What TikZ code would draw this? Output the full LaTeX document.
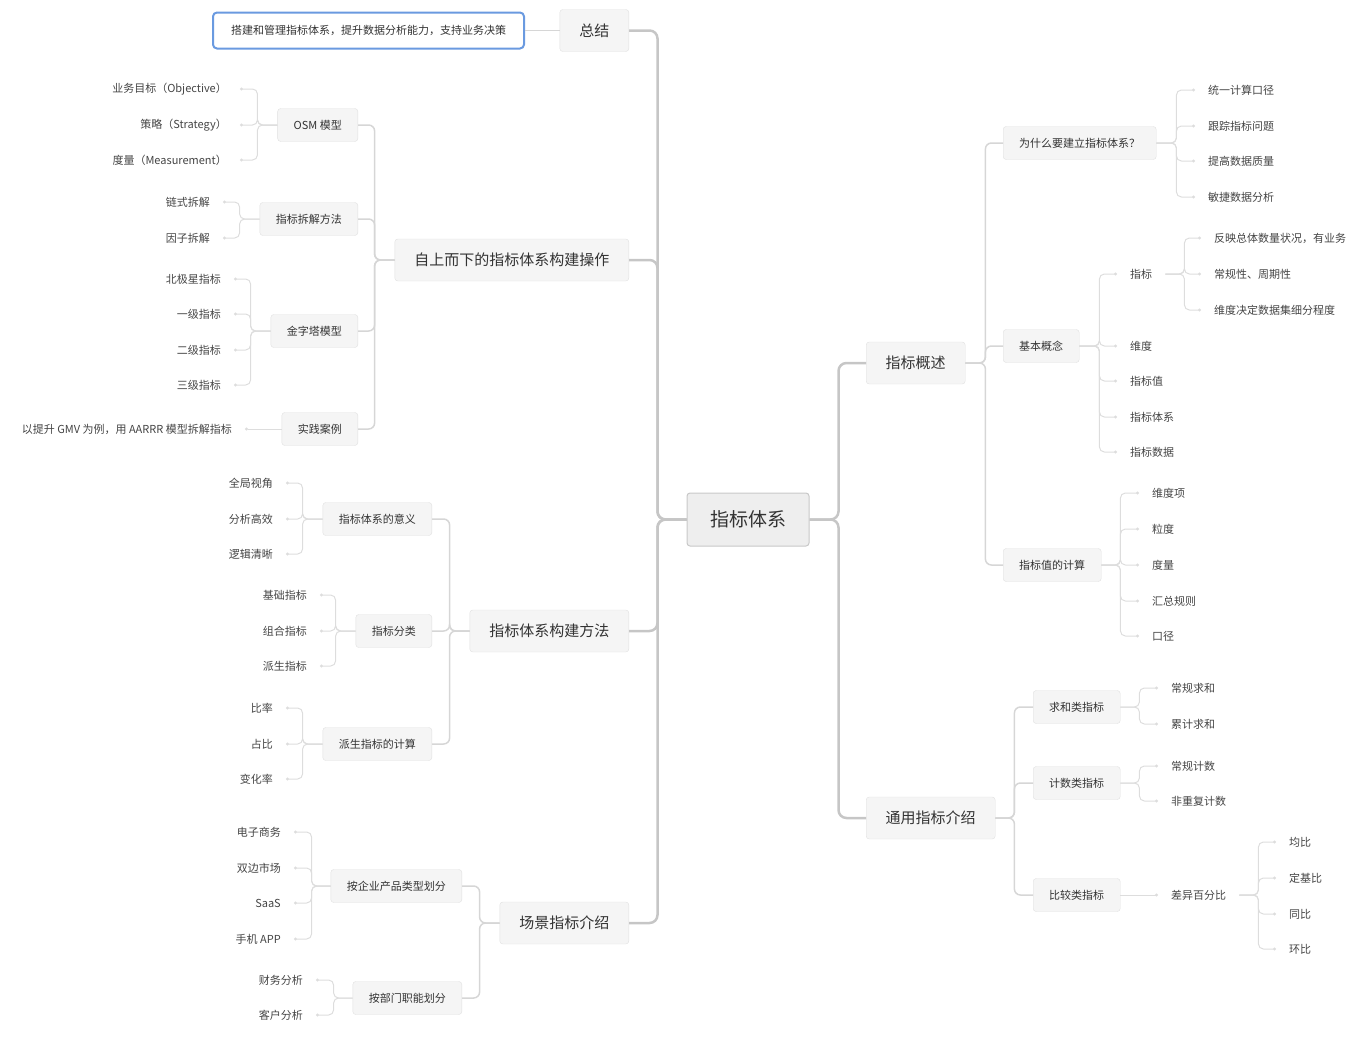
\documentclass[tikz,border=0pt]{standalone}
\usepackage{fontspec}
\setmainfont{Noto Sans CJK SC}
\usetikzlibrary{arrows.meta}
\definecolor{txt}{HTML}{333333}
\definecolor{leaftxt}{HTML}{444444}
\definecolor{boxfill}{HTML}{F5F5F5}
\definecolor{boxline}{HTML}{E0E0E0}
\definecolor{rootfill}{HTML}{EEEEEE}
\definecolor{rootline}{HTML}{C8C8C8}
\definecolor{trunk}{HTML}{C6C6C6}
\definecolor{branch}{HTML}{D6D6D6}
\definecolor{twig}{HTML}{DDDDDD}
\definecolor{hilite}{HTML}{6A9AE0}

\begin{document}
\begin{tikzpicture}[x=1pt,y=-1pt,
    lto/.style={to path={-- ++(-#1,0) |- (\tikztotarget)}},
    rto/.style={to path={-- ++(#1,0) |- (\tikztotarget)}}]
      \useasboundingbox (0,0) rectangle (1351,1036);
      \node[draw=rootline, fill=rootfill, line width=1pt, rounded corners=3pt, minimum height=53pt,
            inner xsep=23pt, font=\fontsize{19}{22}\selectfont, text=txt] (root) at (748,519.5) {指标体系};
      \node[draw=hilite, fill=white, line width=2pt, rounded corners=4pt, minimum height=36pt,
            inner xsep=18pt, font=\fontsize{11}{13}\selectfont, text=txt, anchor=east] (sum) at (525,30.5)
            {搭建和管理指标体系，提升数据分析能力，支持业务决策};
      % main branches
      \begin{scope}[every node/.style={draw=boxline,fill=boxfill,rounded corners=3pt,minimum height=42pt,
          inner xsep=19.5pt,font=\fontsize{15}{18}\selectfont,text=txt}]
        \node[anchor=east] (zj) at (629,30.5) {总结};
        \node[anchor=east] (zs) at (629,260) {自上而下的指标体系构建操作};
        \node[anchor=east] (ff) at (629,631) {指标体系构建方法};
        \node[anchor=east] (cj) at (629,923) {场景指标介绍};
        \node[anchor=west] (gs) at (866,363) {指标概述};
        \node[anchor=west] (ty) at (866,818) {通用指标介绍};
      \end{scope}
      % sub branches
      \begin{scope}[every node/.style={draw=boxline,fill=boxfill,rounded corners=3pt,minimum height=33pt,
          inner xsep=16pt,font=\fontsize{11}{13}\selectfont,text=txt}]
        \node[anchor=east] (osm) at (358,125) {OSM 模型};
        \node[anchor=east] (cf) at (358,219) {指标拆解方法};
        \node[anchor=east] (jzt) at (358,331) {金字塔模型};
        \node[anchor=east] (sl) at (358,429) {实践案例};
        \node[anchor=east] (yy) at (432,519) {指标体系的意义};
        \node[anchor=east] (fl) at (432,631) {指标分类};
        \node[anchor=east] (ps) at (432,744) {派生指标的计算};
        \node[anchor=east] (cp) at (462,886) {按企业产品类型划分};
        \node[anchor=east] (bm) at (462,998) {按部门职能划分};
        \node[anchor=west] (wsm) at (1003,143) {为什么要建立指标体系？};
        \node[anchor=west] (jb) at (1003,346) {基本概念};
        \node[anchor=west] (zjs) at (1003,565) {指标值的计算};
        \node[anchor=west] (qh) at (1033,707) {求和类指标};
        \node[anchor=west] (js) at (1033,783) {计数类指标};
        \node[anchor=west] (bj) at (1033,895) {比较类指标};
      \end{scope}
      % leaves
      \begin{scope}[every node/.style={inner xsep=13pt,inner ysep=2pt,font=\fontsize{11}{13}\selectfont,text=leaftxt}]
        \node[anchor=east] (osm1) at (240,89) {业务目标（Objective）};
        \node[anchor=east] (osm2) at (240,125) {策略（Strategy）};
        \node[anchor=east] (osm3) at (240,160) {度量（Measurement）};
        \node[anchor=east] (cf1) at (223,202) {链式拆解};
        \node[anchor=east] (cf2) at (223,238) {因子拆解};
        \node[anchor=east] (jzt1) at (234,279) {北极星指标};
        \node[anchor=east] (jzt2) at (234,314) {一级指标};
        \node[anchor=east] (jzt3) at (234,350) {二级指标};
        \node[anchor=east] (jzt4) at (234,385) {三级指标};
        \node[anchor=east] (sl1) at (245,429) {以提升 GMV 为例，用 AARRR 模型拆解指标};
        \node[anchor=east] (yy1) at (286,483) {全局视角};
        \node[anchor=east] (yy2) at (286,519) {分析高效};
        \node[anchor=east] (yy3) at (286,554) {逻辑清晰};
        \node[anchor=east] (fl1) at (320,595) {基础指标};
        \node[anchor=east] (fl2) at (320,631) {组合指标};
        \node[anchor=east] (fl3) at (320,666) {派生指标};
        \node[anchor=east] (ps1) at (286,708) {比率};
        \node[anchor=east] (ps2) at (286,744) {占比};
        \node[anchor=east] (ps3) at (286,779) {变化率};
        \node[anchor=east] (cp1) at (294,832) {电子商务};
        \node[anchor=east] (cp2) at (294,868) {双边市场};
        \node[anchor=east] (cp3) at (294,903) {SaaS};
        \node[anchor=east] (cp4) at (294,939) {手机 APP};
        \node[anchor=east] (bm1) at (316,980) {财务分析};
        \node[anchor=east] (bm2) at (316,1015) {客户分析};
        \node[anchor=west] (wsm1) at (1195,90) {统一计算口径};
        \node[anchor=west] (wsm2) at (1195,126) {跟踪指标问题};
        \node[anchor=west] (wsm3) at (1195,161) {提高数据质量};
        \node[anchor=west] (wsm4) at (1195,197) {敏捷数据分析};
        \node[anchor=west] (jb1) at (1117,274) {指标};
        \node[anchor=west] (jb2) at (1117,346) {维度};
        \node[anchor=west] (jb3) at (1117,381) {指标值};
        \node[anchor=west] (jb4) at (1117,417) {指标体系};
        \node[anchor=west] (jb5) at (1117,452) {指标数据};
        \node[anchor=west] (zb1) at (1201,238) {反映总体数量状况，有业务};
        \node[anchor=west] (zb2) at (1201,274) {常规性、周期性};
        \node[anchor=west] (zb3) at (1201,310) {维度决定数据集细分程度};
        \node[anchor=west] (zjs1) at (1139,493) {维度项};
        \node[anchor=west] (zjs2) at (1139,529) {粒度};
        \node[anchor=west] (zjs3) at (1139,565) {度量};
        \node[anchor=west] (zjs4) at (1139,601) {汇总规则};
        \node[anchor=west] (zjs5) at (1139,636) {口径};
        \node[anchor=west] (qh1) at (1158,688) {常规求和};
        \node[anchor=west] (qh2) at (1158,724) {累计求和};
        \node[anchor=west] (js1) at (1158,766) {常规计数};
        \node[anchor=west] (js2) at (1158,801) {非重复计数};
        \node[anchor=west] (bj1) at (1158,895) {差异百分比};
        \node[anchor=west] (cy1) at (1276,842) {均比};
        \node[anchor=west] (cy2) at (1276,878) {定基比};
        \node[anchor=west] (cy3) at (1276,914) {同比};
        \node[anchor=west] (cy4) at (1276,949) {环比};
      \end{scope}
      % connectors from the root
      \begin{scope}[every edge/.style={draw=trunk,line width=2.5pt,rounded corners=8pt}]
        \path (root.west) edge[lto=29pt] (zj.east);
        \path (root.west) edge[lto=29pt] (zs.east);
        \path (root.west) edge[lto=29pt] (ff.east);
        \path (root.west) edge[lto=29pt] (cj.east);
        \path (root.east) edge[rto=29pt] (gs.west);
        \path (root.east) edge[rto=29pt] (ty.west);
      \end{scope}
      \begin{scope}[every edge/.style={draw=branch,line width=1.5pt,rounded corners=6pt}]
        \path (zj.west) edge (sum.east);
        \path (zs.west) edge[lto=20pt] (osm.east);
        \path (zs.west) edge[lto=20pt] (cf.east);
        \path (zs.west) edge[lto=20pt] (jzt.east);
        \path (zs.west) edge[lto=20pt] (sl.east);
        \path (ff.west) edge[lto=20pt] (yy.east);
        \path (ff.west) edge[lto=20pt] (fl.east);
        \path (ff.west) edge[lto=20pt] (ps.east);
        \path (cj.west) edge[lto=20pt] (cp.east);
        \path (cj.west) edge[lto=20pt] (bm.east);
        \path (gs.east) edge[rto=20pt] (wsm.west);
        \path (gs.east) edge[rto=20pt] (jb.west);
        \path (gs.east) edge[rto=20pt] (zjs.west);
        \path (ty.east) edge[rto=19pt] (qh.west);
        \path (ty.east) edge[rto=19pt] (js.west);
        \path (ty.east) edge[rto=19pt] (bj.west);
      \end{scope}
      % connectors to the leaves
      \begin{scope}[every edge/.style={draw=twig,line width=1pt,rounded corners=5pt,-{Circle[length=3pt]}}]
        \path (osm.west) edge[lto=20pt] (osm1.east);
        \path (osm.west) edge[lto=20pt] (osm2.east);
        \path (osm.west) edge[lto=20pt] (osm3.east);
        \path (cf.west) edge[lto=20pt] (cf1.east);
        \path (cf.west) edge[lto=20pt] (cf2.east);
        \path (jzt.west) edge[lto=20pt] (jzt1.east);
        \path (jzt.west) edge[lto=20pt] (jzt2.east);
        \path (jzt.west) edge[lto=20pt] (jzt3.east);
        \path (jzt.west) edge[lto=20pt] (jzt4.east);
        \path (sl.west) edge (sl1.east);
        \path (yy.west) edge[lto=20pt] (yy1.east);
        \path (yy.west) edge[lto=20pt] (yy2.east);
        \path (yy.west) edge[lto=20pt] (yy3.east);
        \path (fl.west) edge[lto=20pt] (fl1.east);
        \path (fl.west) edge[lto=20pt] (fl2.east);
        \path (fl.west) edge[lto=20pt] (fl3.east);
        \path (ps.west) edge[lto=20pt] (ps1.east);
        \path (ps.west) edge[lto=20pt] (ps2.east);
        \path (ps.west) edge[lto=20pt] (ps3.east);
        \path (cp.west) edge[lto=19pt] (cp1.east);
        \path (cp.west) edge[lto=19pt] (cp2.east);
        \path (cp.west) edge[lto=19pt] (cp3.east);
        \path (cp.west) edge[lto=19pt] (cp4.east);
        \path (bm.west) edge[lto=19pt] (bm1.east);
        \path (bm.west) edge[lto=19pt] (bm2.east);
        \path (wsm.east) edge[rto=20pt] (wsm1.west);
        \path (wsm.east) edge[rto=20pt] (wsm2.west);
        \path (wsm.east) edge[rto=20pt] (wsm3.west);
        \path (wsm.east) edge[rto=20pt] (wsm4.west);
        \path (jb.east) edge[rto=20pt] (jb1.west);
        \path (jb.east) edge[rto=20pt] (jb2.west);
        \path (jb.east) edge[rto=20pt] (jb3.west);
        \path (jb.east) edge[rto=20pt] (jb4.west);
        \path (jb.east) edge[rto=20pt] (jb5.west);
        \path (jb1.east) edge[rto=19pt] (zb1.west);
        \path (jb1.east) edge[rto=19pt] (zb2.west);
        \path (jb1.east) edge[rto=19pt] (zb3.west);
        \path (zjs.east) edge[rto=19pt] (zjs1.west);
        \path (zjs.east) edge[rto=19pt] (zjs2.west);
        \path (zjs.east) edge[rto=19pt] (zjs3.west);
        \path (zjs.east) edge[rto=19pt] (zjs4.west);
        \path (zjs.east) edge[rto=19pt] (zjs5.west);
        \path (qh.east) edge[rto=19pt] (qh1.west);
        \path (qh.east) edge[rto=19pt] (qh2.west);
        \path (js.east) edge[rto=19pt] (js1.west);
        \path (js.east) edge[rto=19pt] (js2.west);
        \path (bj.east) edge (bj1.west);
        \path (bj1.east) edge[rto=19pt] (cy1.west);
        \path (bj1.east) edge[rto=19pt] (cy2.west);
        \path (bj1.east) edge[rto=19pt] (cy3.west);
        \path (bj1.east) edge[rto=19pt] (cy4.west);
      \end{scope}
    \end{tikzpicture}
\end{document}
